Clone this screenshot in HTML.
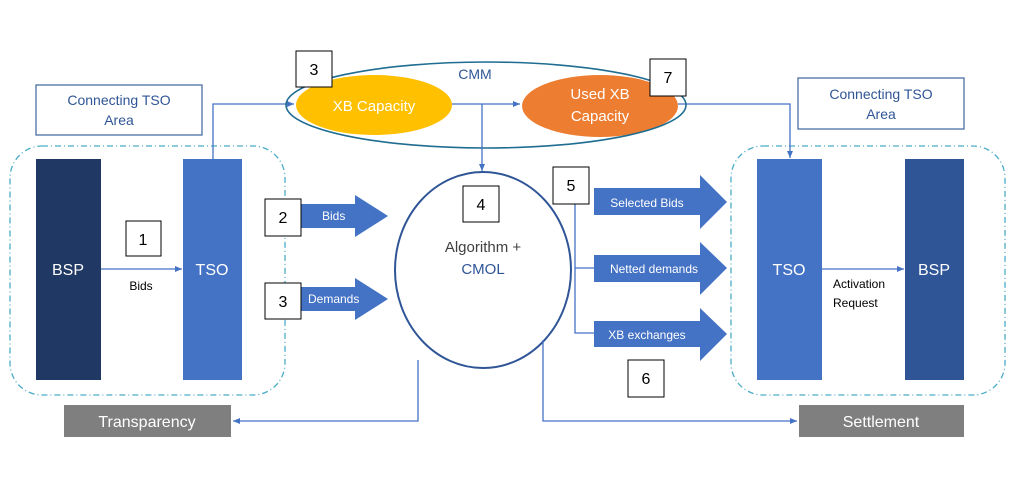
<!DOCTYPE html>
<html><head><meta charset="utf-8"><style>body{margin:0;background:#fff}svg{display:block}text{font-family:"Liberation Sans",sans-serif}</style></head><body>
<svg width="1010" height="487" viewBox="0 0 1010 487" xmlns="http://www.w3.org/2000/svg">
<defs><marker id="a" markerWidth="8" markerHeight="8" refX="7" refY="4" orient="auto" markerUnits="userSpaceOnUse"><path d="M0,1 L7,4 L0,7 Z" fill="#4472c4"/></marker></defs>
<rect width="1010" height="487" fill="#fff"/>
<!-- dashed boxes -->
<rect x="10" y="146" width="275" height="249" rx="32" fill="none" stroke="#4bacc6" stroke-width="1.3" stroke-dasharray="6,3,1,3"/>
<rect x="731" y="146" width="274" height="249" rx="32" fill="none" stroke="#4bacc6" stroke-width="1.3" stroke-dasharray="6,3,1,3"/>
<!-- connecting boxes -->
<rect x="36" y="85" width="166" height="50" fill="#fff" stroke="#4a6fa5" stroke-width="1.3"/>
<text x="119" y="105" font-size="14" fill="#2f5597" text-anchor="middle">Connecting TSO</text>
<text x="119" y="125" font-size="14" fill="#2f5597" text-anchor="middle">Area</text>
<rect x="798" y="78" width="166" height="51" fill="#fff" stroke="#4a6fa5" stroke-width="1.3"/>
<text x="881" y="99" font-size="14" fill="#2f5597" text-anchor="middle">Connecting TSO</text>
<text x="881" y="119" font-size="14" fill="#2f5597" text-anchor="middle">Area</text>
<!-- bars -->
<rect x="36" y="159" width="65" height="221" fill="#1f3864"/>
<text x="68" y="275" font-size="16" fill="#fff" text-anchor="middle">BSP</text>
<rect x="183" y="159" width="59" height="221" fill="#4472c4"/>
<text x="212" y="275" font-size="16" fill="#fff" text-anchor="middle">TSO</text>
<rect x="757" y="159" width="65" height="221" fill="#4472c4"/>
<text x="789" y="275" font-size="16" fill="#fff" text-anchor="middle">TSO</text>
<rect x="905" y="159" width="59" height="221" fill="#2f5597"/>
<text x="934" y="275" font-size="16" fill="#fff" text-anchor="middle">BSP</text>
<line x1="101" y1="269" x2="182" y2="269" stroke="#4472c4" stroke-width="1.3" marker-end="url(#a)"/>
<text x="141" y="290" font-size="12" fill="#000" text-anchor="middle">Bids</text>
<line x1="822" y1="269" x2="904" y2="269" stroke="#4472c4" stroke-width="1.3" marker-end="url(#a)"/>
<text x="833" y="288" font-size="12" fill="#000">Activation</text>
<text x="833" y="307" font-size="12" fill="#000">Request</text>
<!-- connectors top -->
<polyline points="213,159 213,104 294,104" fill="none" stroke="#4472c4" stroke-width="1.3" marker-end="url(#a)"/>
<polyline points="678,104 790,104 790,158" fill="none" stroke="#4472c4" stroke-width="1.3" marker-end="url(#a)"/>
<!-- CMM ellipses -->
<ellipse cx="374" cy="105" rx="78" ry="30" fill="#ffc000"/>
<text x="374" y="111" font-size="15" fill="#fff" text-anchor="middle">XB Capacity</text>
<ellipse cx="600" cy="106" rx="78" ry="31" fill="#ed7d31"/>
<text x="600" y="99" font-size="15" fill="#fff" text-anchor="middle">Used XB</text>
<text x="600" y="121" font-size="15" fill="#fff" text-anchor="middle">Capacity</text>
<ellipse cx="486" cy="105" rx="200" ry="43" fill="none" stroke="#1f6d91" stroke-width="1.6"/>
<text x="475" y="79" font-size="14" fill="#2f5597" text-anchor="middle">CMM</text>
<line x1="452" y1="104" x2="520" y2="104" stroke="#4472c4" stroke-width="1.3" marker-end="url(#a)"/>
<line x1="482" y1="104" x2="482" y2="171" stroke="#4472c4" stroke-width="1.3" marker-end="url(#a)"/>
<!-- circle -->
<ellipse cx="483" cy="270" rx="88" ry="98" fill="#fff" stroke="#2f5597" stroke-width="2"/>
<text x="483" y="252" font-size="15" fill="#404040" text-anchor="middle">Algorithm +</text>
<text x="483" y="274" font-size="15" fill="#2f5597" text-anchor="middle">CMOL</text>
<!-- bottom connectors -->
<polyline points="418,360 418,421 233,421" fill="none" stroke="#4472c4" stroke-width="1.3" marker-end="url(#a)"/>
<polyline points="543,340 543,421 797,421" fill="none" stroke="#4472c4" stroke-width="1.3" marker-end="url(#a)"/>
<rect x="64" y="405" width="167" height="32" fill="#7f7f7f"/>
<text x="147" y="427" font-size="16" fill="#fff" text-anchor="middle">Transparency</text>
<rect x="799" y="405" width="165" height="32" fill="#7f7f7f"/>
<text x="881" y="427" font-size="16" fill="#fff" text-anchor="middle">Settlement</text>
<!-- left arrows -->
<path d="M301,204 H355 V195 L388,216 L355,237 V228 H301 Z" fill="#4472c4"/>
<text x="322" y="220" font-size="12" fill="#fff">Bids</text>
<path d="M301,287 H355 V278 L388,299 L355,320 V311 H301 Z" fill="#4472c4"/>
<text x="308" y="303" font-size="12" fill="#fff">Demands</text>
<!-- right arrows -->
<polyline points="589,202 575,202 575,333 594,333" fill="none" stroke="#4472c4" stroke-width="1.3"/>
<line x1="575" y1="268" x2="594" y2="268" stroke="#4472c4" stroke-width="1.3"/>
<path d="M594,188 H700 V175 L727,202 L700,229 V215 H594 Z" fill="#4472c4"/>
<text x="647" y="207" font-size="12" fill="#fff" text-anchor="middle">Selected Bids</text>
<path d="M594,255 H700 V242 L727,268 L700,295 V282 H594 Z" fill="#4472c4"/>
<text x="654" y="273" font-size="12" fill="#fff" text-anchor="middle">Netted demands</text>
<path d="M594,321 H700 V308 L727,334 L700,361 V347 H594 Z" fill="#4472c4"/>
<text x="647" y="339" font-size="12" fill="#fff" text-anchor="middle">XB exchanges</text>
<!-- number boxes -->
<g font-size="16" fill="#000" text-anchor="middle">
<rect x="126" y="221" width="35" height="35" fill="#fff" stroke="#000"/><text x="143" y="245">1</text>
<rect x="265" y="199" width="36" height="37" fill="#fff" stroke="#000"/><text x="283" y="223">2</text>
<rect x="265" y="283" width="36" height="36" fill="#fff" stroke="#000"/><text x="283" y="307">3</text>
<rect x="296" y="51" width="36" height="36" fill="#fff" stroke="#000"/><text x="314" y="75">3</text>
<rect x="463" y="186" width="36" height="36" fill="#fff" stroke="#000"/><text x="481" y="210">4</text>
<rect x="553" y="167" width="36" height="37" fill="#fff" stroke="#000"/><text x="571" y="191">5</text>
<rect x="628" y="360" width="36" height="37" fill="#fff" stroke="#000"/><text x="646" y="384">6</text>
<rect x="650" y="59" width="36" height="37" fill="#fff" stroke="#000"/><text x="668" y="83">7</text>
</g>
</svg>
</body></html>
